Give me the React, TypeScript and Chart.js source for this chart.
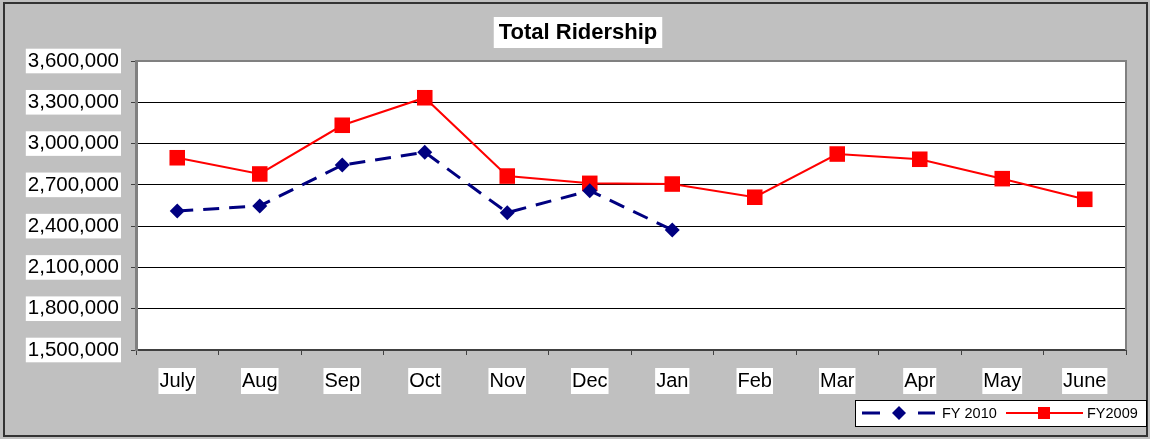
import React, { useEffect, useRef } from "react";
import { Chart, registerables } from "chart.js";

Chart.register(...registerables);

const chartTitle = "Total Ridership";
const months = ["July", "Aug", "Sep", "Oct", "Nov", "Dec", "Jan", "Feb", "Mar", "Apr", "May", "June"];
const fy2010Label = "FY 2010";
const fy2010 = [2510000, 2547000, 2844000, 2937000, 2498000, 2658000, 2372000, null, null, null, null, null];
const fy2009Label = "FY2009";
const fy2009 = [2897000, 2779000, 3133000, 3333000, 2764000, 2711000, 2706000, 2610000, 2924000, 2886000, 2745000, 2595000];
const yMin = 1500000;
const yMax = 3600000;
const yStep = 300000;

const FONT = "'Liberation Sans', Arial, sans-serif";
const NAVY = "#000080";
const RED = "#ff0000";

const framePlugin = {
  id: "excelFrame",
  beforeDraw(chart: any) {
    const { ctx, width, height, chartArea: a } = chart;
    ctx.save();
    ctx.fillStyle = "#c0c0c0";
    ctx.fillRect(0, 0, width, height);
    ctx.fillStyle = "#ffffff";
    ctx.fillRect(a.left, a.top, a.right - a.left, a.bottom - a.top);
    ctx.strokeStyle = "#333333";
    ctx.lineWidth = 2;
    ctx.strokeRect(4, 3, width - 7, height - 6);
    ctx.restore();
  },
  beforeDatasetsDraw(chart: any) {
    const { ctx, chartArea: a } = chart;
    ctx.save();
    ctx.strokeStyle = "#808080";
    ctx.lineWidth = 2;
    ctx.beginPath();
    ctx.moveTo(a.left, a.top);
    ctx.lineTo(a.right, a.top);
    ctx.lineTo(a.right, a.bottom);
    ctx.stroke();
    ctx.restore();
  },
  afterDraw(chart: any) {
    const { ctx, width } = chart;
    ctx.save();
    // title
    ctx.font = `bold 22px ${FONT}`;
    const tw = ctx.measureText(chartTitle).width;
    const cx = width / 2 + 3;
    ctx.fillStyle = "#ffffff";
    ctx.fillRect(cx - tw / 2 - 5, 17, tw + 10, 31);
    ctx.fillStyle = "#000000";
    ctx.textAlign = "center";
    ctx.textBaseline = "middle";
    ctx.fillText(chartTitle, cx, 33);

    // legend
    const lx = 855.5, ly = 400.5, lw = 291, lh = 26;
    ctx.fillStyle = "#ffffff";
    ctx.fillRect(lx, ly, lw, lh);
    ctx.strokeStyle = "#000000";
    ctx.lineWidth = 1;
    ctx.strokeRect(lx, ly, lw, lh);
    const my = 413;
    const ds = chart.data.datasets;
    // FY 2010 sample
    ctx.strokeStyle = NAVY;
    ctx.lineWidth = 3;
    ctx.beginPath();
    ctx.moveTo(862, my); ctx.lineTo(880, my);
    ctx.moveTo(918, my); ctx.lineTo(935, my);
    ctx.stroke();
    ctx.fillStyle = NAVY;
    ctx.beginPath();
    ctx.moveTo(899 - 7, my); ctx.lineTo(899, my - 7); ctx.lineTo(899 + 7, my); ctx.lineTo(899, my + 7);
    ctx.closePath();
    ctx.fill();
    // FY2009 sample
    ctx.strokeStyle = RED;
    ctx.lineWidth = 2;
    ctx.beginPath();
    ctx.moveTo(1006, my); ctx.lineTo(1083, my);
    ctx.stroke();
    ctx.fillStyle = RED;
    ctx.fillRect(1044 - 6, my - 6, 12, 12);
    ctx.fillStyle = "#000000";
    ctx.font = `14.5px ${FONT}`;
    ctx.textAlign = "left";
    ctx.textBaseline = "middle";
    ctx.fillText(ds[0].label, 942, my + 1);
    ctx.fillText(ds[1].label, 1087, my + 1);
    ctx.restore();
  },
};

export default function App() {
  const ref = useRef<HTMLCanvasElement | null>(null);
  useEffect(() => {
    document.body.style.margin = "0";
    const canvas = ref.current;
    if (!canvas) return;
    const chart = new Chart(canvas, {
      type: "line",
      data: {
        labels: months,
        datasets: [
          {
            label: fy2010Label,
            data: fy2010,
            borderColor: NAVY,
            backgroundColor: NAVY,
            borderWidth: 3,
            borderDash: [16, 10],
            pointStyle: "rectRot",
            pointRadius: 7.5,
            pointBorderWidth: 0,
            pointBackgroundColor: NAVY,
            spanGaps: false,
            tension: 0,
          },
          {
            label: fy2009Label,
            data: fy2009,
            borderColor: RED,
            backgroundColor: RED,
            borderWidth: 2,
            pointStyle: "rect",
            pointRadius: 11,
            pointBorderWidth: 0,
            pointBackgroundColor: RED,
            tension: 0,
          },
        ],
      },
      options: {
        animation: false,
        responsive: false,
        devicePixelRatio: 1,
        events: [],
        layout: { padding: { top: 61, right: 24, bottom: 0, left: 0 } },
        plugins: {
          legend: { display: false },
          title: { display: false },
          tooltip: { enabled: false },
        },
        scales: {
          x: {
            offset: true,
            afterFit(scale: any) { scale.height = 89; },
            grid: {
              display: true,
              offset: true,
              drawOnChartArea: false,
              drawTicks: true,
              tickLength: 5,
              color: "#404040",
              lineWidth: 1,
            },
            border: { display: true, color: "#404040", width: 2 },
            ticks: {
              color: "#000000",
              font: { family: FONT, size: 20 },
              padding: 14,
              maxRotation: 0,
              autoSkip: false,
              showLabelBackdrop: true,
              backdropColor: "#ffffff",
              backdropPadding: { top: 1, bottom: 1, left: 1, right: 1 },
            },
          },
          y: {
            min: yMin,
            max: yMax,
            afterFit(scale: any) { scale.width = 136; },
            grid: {
              color: "#000000",
              lineWidth: 1,
              drawTicks: true,
              tickLength: 5,
              tickColor: "#404040",
            },
            border: { display: true, color: "#808080", width: 3 },
            ticks: {
              stepSize: yStep,
              color: "#000000",
              font: { family: FONT, size: 20.5 },
              padding: 12,
              showLabelBackdrop: true,
              backdropColor: "#ffffff",
              backdropPadding: { top: 0, bottom: 0, left: 2, right: 2 },
              callback: (v: any) => Number(v).toLocaleString("en-US"),
            },
          },
        },
      },
      plugins: [framePlugin],
    });
    return () => chart.destroy();
  }, []);
  return (
    <div style={{ position: "fixed", left: 0, top: 0, width: 1150, height: 439 }}>
      <canvas ref={ref} width={1150} height={439} style={{ width: 1150, height: 439, display: "block" }} />
    </div>
  );
}
